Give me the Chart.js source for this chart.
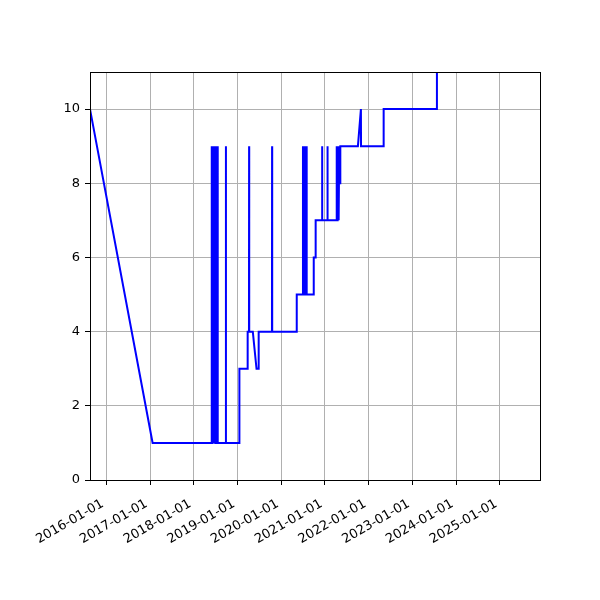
<!DOCTYPE html>
<html>
<head>
<meta charset="utf-8">
<script src="https://cdn.jsdelivr.net/npm/chart.js@4"></script>
<style>
  html, body { margin: 0; padding: 0; background: #fff; }
  #wrap { width: 600px; height: 600px; }
</style>
</head>
<body>
<div id="wrap"><canvas id="chart" width="600" height="600"></canvas></div>
<script>
// dates of each change in the series
var dates = [
    "2015-08-18", "2017-01-22",
    "2018-05-29", "2018-05-31", "2018-06-03", "2018-06-06", "2018-06-09", "2018-06-12",
    "2018-06-15", "2018-06-19", "2018-06-22", "2018-06-26", "2018-06-29", "2018-07-03",
    "2018-07-06", "2018-07-10", "2018-07-14", "2018-07-18", "2018-07-22",
    "2018-09-25", "2018-09-26", "2018-09-27",
    "2019-01-16", "2019-01-17", "2019-03-26", "2019-03-27",
    "2019-04-07", "2019-04-08", "2019-04-09",
    "2019-05-09", "2019-06-09", "2019-06-26", "2019-06-27",
    "2019-10-16", "2019-10-17", "2019-10-18",
    "2020-05-09", "2020-05-10",
    "2020-06-29", "2020-07-01", "2020-07-04", "2020-07-07", "2020-07-11", "2020-07-15",
    "2020-07-19", "2020-07-23", "2020-07-27", "2020-07-31", "2020-08-02",
    "2020-09-28", "2020-09-29", "2020-10-14", "2020-10-15",
    "2020-12-07", "2020-12-08", "2020-12-09",
    "2021-01-21", "2021-01-22", "2021-01-23",
    "2021-04-07", "2021-04-09", "2021-04-12", "2021-04-15", "2021-04-18", "2021-04-21",
    "2021-04-25", "2021-04-30", "2021-05-01", "2021-05-08", "2021-05-09",
    "2021-10-03", "2021-10-28", "2021-10-29",
    "2022-05-05", "2022-05-06",
    "2023-07-24", "2023-07-25"
];

var values = [
    10, 1,
    1, 9, 1, 9, 1, 9,
    1, 9, 1, 9, 1, 9,
    1, 9, 1, 9, 1,
    1, 9, 1,
    1, 3, 3, 4,
    4, 9, 4,
    4, 3, 3, 4,
    4, 9, 4,
    4, 5,
    5, 9, 5, 9, 5, 9,
    5, 9, 5, 9, 5,
    5, 6, 6, 7,
    7, 9, 7,
    7, 9, 7,
    7, 9, 7, 9, 7, 9,
    7, 9, 8, 8, 9,
    9, 10, 9,
    9, 10,
    10, 12
];

var tickYears = [2016, 2017, 2018, 2019, 2020, 2021, 2022, 2023, 2024, 2025];
var yTicks = [0, 2, 4, 6, 8, 10];

var xMinDate = "2015-08-18";
var xMaxDate = "2025-12-02";

function toMs(s) {
    var p = s.split("-");
    return Date.UTC(+p[0], +p[1] - 1, +p[2]);
}

function pad2(n) { return (n < 10 ? "0" : "") + n; }

var points = dates.map(function (d, i) {
    return { x: toMs(d), y: values[i] };
});

// black frame round the plot area, like the matplotlib spines
var frame = {
    id: "frame",
    afterDraw: function (chart) {
        var a = chart.chartArea;
        var c = chart.ctx;
        c.save();
        c.strokeStyle = "#000";
        c.lineWidth = 1;
        c.strokeRect(Math.round(a.left) + 0.5, Math.round(a.top) + 0.5,
                     Math.round(a.right - a.left), Math.round(a.bottom - a.top));
        c.restore();
    }
};

Chart.defaults.font.family = "'DejaVu Sans', sans-serif";
Chart.defaults.font.size = 13;
Chart.defaults.color = "#000";

new Chart(document.getElementById("chart"), {
    type: "line",
    data: {
        datasets: [{
            data: points,
            borderColor: "#0000ff",
            borderWidth: 2,
            pointRadius: 0,
            tension: 0,
            fill: false,
            clip: 0
        }]
    },
    options: {
        responsive: false,
        animation: false,
        layout: { padding: { top: 72, right: 60, left: 0, bottom: 0 } },
        plugins: {
            legend: { display: false },
            tooltip: { enabled: false }
        },
        scales: {
            x: {
                type: "linear",
                min: toMs(xMinDate),
                max: toMs(xMaxDate),
                afterBuildTicks: function (scale) {
                    scale.ticks = tickYears.map(function (y) {
                        return { value: Date.UTC(y, 0, 1) };
                    });
                },
                afterFit: function (scale) { scale.height = 120; },
                grid: {
                    color: "#b0b0b0",
                    lineWidth: 1,
                    tickColor: "#000",
                    tickLength: 5
                },
                border: { display: false },
                ticks: {
                    autoSkip: false,
                    minRotation: 30,
                    maxRotation: 30,
                    padding: 9,
                    callback: function (v) {
                        var d = new Date(v);
                        // trailing space nudges the rotated label left, as matplotlib does
                        return d.getUTCFullYear() + "-" + pad2(d.getUTCMonth() + 1) + "-" + pad2(d.getUTCDate()) + " ";
                    }
                }
            },
            y: {
                type: "linear",
                min: 0,
                max: 11,
                afterBuildTicks: function (scale) {
                    scale.ticks = yTicks.map(function (v) { return { value: v }; });
                },
                afterFit: function (scale) { scale.width = 90; },
                grid: {
                    color: "#b0b0b0",
                    lineWidth: 1,
                    tickColor: "#000",
                    tickLength: 5
                },
                border: { display: false },
                ticks: { padding: 5 }
            }
        }
    },
    plugins: [frame]
});
</script>
</body>
</html>
